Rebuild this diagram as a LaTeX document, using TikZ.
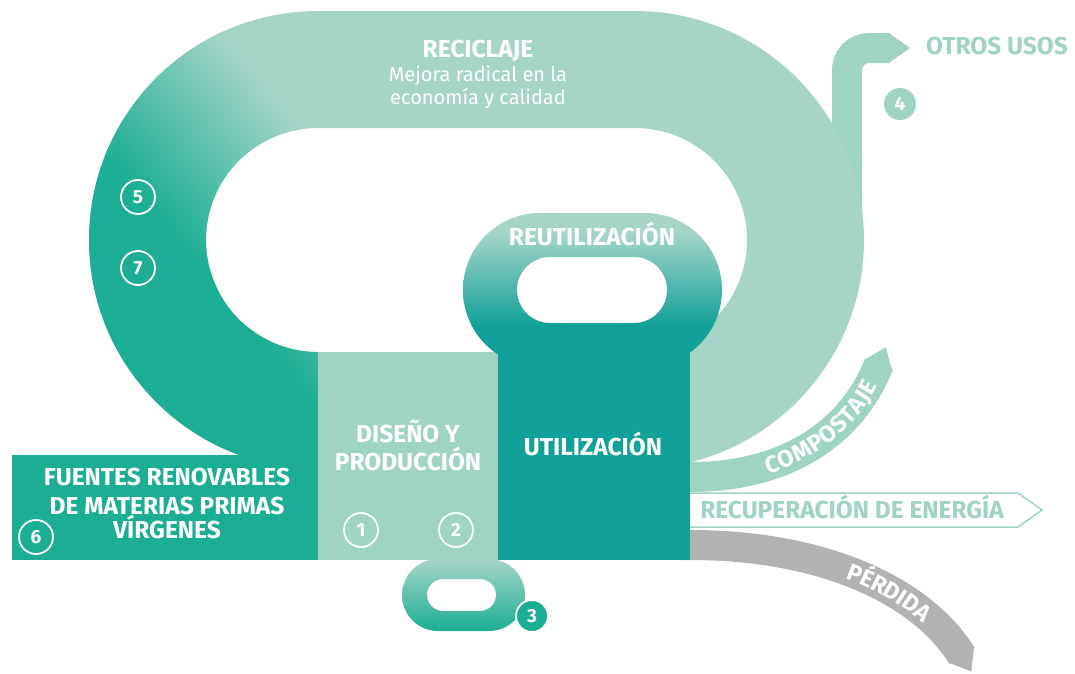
\documentclass[tikz,border=0pt]{standalone}
\usepackage{fontspec}
\setmainfont{Fira Sans}
\usepackage{tikz}
\usetikzlibrary{positioning,decorations.text}
\definecolor{mint}{HTML}{A6D5C8}
\definecolor{mintb}{HTML}{9FD3C4}
\definecolor{leaf}{HTML}{1BAE94}
\definecolor{sea}{HTML}{12A19A}
\definecolor{ash}{HTML}{B2B2B2}
\newcommand\lblfont{\bfseries\fontsize{24.5}{28}\selectfont}
\newcommand\bandfont{\bfseries\fontsize{23.5}{26}\selectfont}

\begin{document}
\begin{tikzpicture}[x=1pt, y=-1pt,
  lbl/.style={text=white, font=\lblfont, inner sep=0pt, anchor=base},
  sub/.style={text=white, font=\fontsize{20}{24}\selectfont, inner sep=0pt, anchor=base},
  badge/.style={circle, draw=white, line width=1.8pt, minimum size=34pt, inner sep=0pt, text=white, font=\bfseries\fontsize{19}{19}\selectfont},
  band/.style={line width=30pt}]
\useasboundingbox (0,0) rectangle (1075,673);

\draw[mintb, band, rounded corners=22pt] (847,240) -- (847,48) -- (890,48);
\fill[mintb] (888.5,33) -- (910,48) -- (888.5,63) -- cycle;

\begin{scope}[even odd rule]
\clip (318,469) arc[start angle=90, end angle=270, radius=229] -- (635,11)
  arc[start angle=270, end angle=450, radius=229] -- cycle
  (318,352) arc[start angle=90, end angle=270, radius=112] -- (635,128)
  arc[start angle=270, end angle=450, radius=112] -- cycle;
\fill[mint] (0,0) rectangle (900,480);
\begin{scope}[transform canvas={rotate around={40:(0,0)}}]
\fill[leaf] (-1500,-1500) rectangle (-12,1500);
\shade[left color=leaf, right color=mint] (-20,-1500) rectangle (150,1500);
\end{scope}
\end{scope}

\draw[mintb, band] (680,477) -- (690,477) .. controls (790,477) and (853,430) .. (879,364);
\fill[mintb] (864.4,359.9) -- (885.6,347.2) -- (892.4,370.9) -- cycle;
\draw[mintb, line width=1.5pt, fill=white] (685,493) -- (1018,493) -- (1042,510) -- (1018,527) -- (685,527);
\draw[ash, band] (680,545) -- (690,545) .. controls (830,545) and (925,595) .. (962,656);
\fill[ash] (974.0,646.9) -- (971.3,671.4) -- (948.4,662.5) -- cycle;

\fill[leaf] (12,455) rectangle (318,560);

\begin{scope}[even odd rule]
\clip (402,559) [rounded corners=36pt] rectangle (525,631)
  (427,579) [rounded corners=16pt] rectangle (496,611);
\shade[top color=mint, bottom color=leaf] (402,559) rectangle (525,631);
\end{scope}

\fill[mintb] (318,352) rectangle (498,560);

\begin{scope}[even odd rule]
\clip (463,213) [rounded corners=77pt] rectangle (722,367)
  (517,257) [rounded corners=33pt] rectangle (667,323);
\fill[mint] (450,200) rectangle (740,232);
\shade[top color=mint, bottom color=sea] (450,232) rectangle (740,325);
\fill[sea] (450,325) rectangle (740,380);
\end{scope}

\fill[sea] (498,352) rectangle (690,560);

\node[lbl] (recic) at (478,57) {RECICLAJE};
\node[sub] (mejora) at (478,81) {Mejora radical en la};
\node[sub] (econ) at (478,104) {economía y calidad};
\node[lbl] (reuti) at (592,245) {REUTILIZACIÓN};
\node[lbl] (dis) at (408,442) {DISEÑO Y};
\node[lbl] (prod) at (408,470) {PRODUCCIÓN};
\node[lbl] (util) at (593,455) {UTILIZACIÓN};
\node[lbl] (fuentes) at (167,485) {FUENTES RENOVABLES};
\node[lbl] (materias) at (167,514) {DE MATERIAS PRIMAS};
\node[lbl] (virg) at (167,538) {VÍRGENES};
\node[lbl, text=mintb] (otros) at (997,54) {OTROS USOS};
\node[lbl, text=mintb] (recup) at (852,518) {RECUPERACIÓN DE ENERGÍA};

\path[decorate, decoration={text along path, text={|\bandfont|COMPOSTAJE}, text color=white,
  raise=-8pt, text align={right, right indent=20pt}}]
  (690,477) .. controls (790,477) and (853,430) .. (879,364);
\path[decorate, decoration={text along path, text={|\bandfont|PÉRDIDA}, text color=white,
  raise=-8pt, text align={right, right indent=52pt}}]
  (690,545) .. controls (830,545) and (925,595) .. (962,656);

\node[badge] (b1) at (361,530) {1};
\node[badge] (b2) at (456,530) {2};
\node[badge, fill=leaf, minimum size=32pt] (b3) at (532,616) {3};
\node[badge, draw=none, fill=mintb, minimum size=32pt] (b4) at (900,104) {4};
\node[badge] (b5) at (138,197) {5};
\node[badge] (b7) at (138,268) {7};
\node[badge] (b6) at (36,537) {6};
\end{tikzpicture}
\end{document}
